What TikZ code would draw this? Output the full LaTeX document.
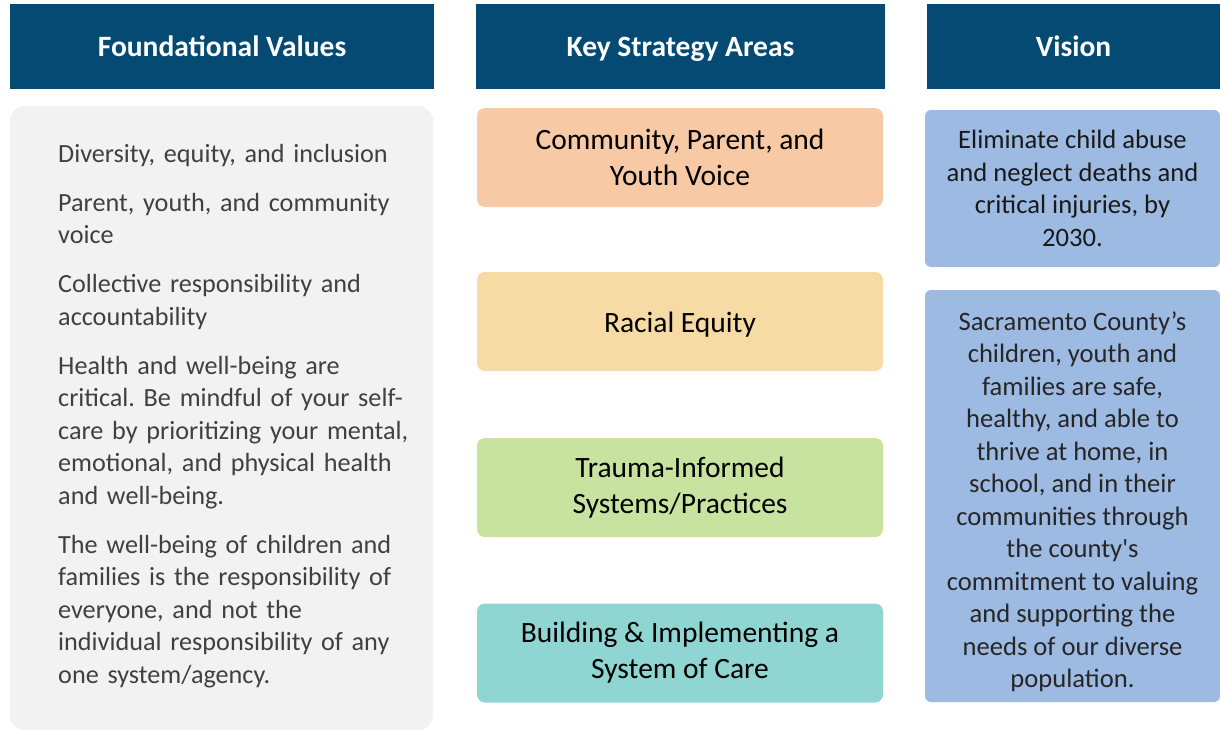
\documentclass[tikz,border=0pt]{standalone}
\usepackage{fontspec}
\setmainfont{Carlito}[Ligatures=TeXOff]
\frenchspacing
\definecolor{hdrblue}{HTML}{044A72}
\definecolor{fvgrey}{HTML}{F2F2F2}
\definecolor{fvtext}{HTML}{404040}
\definecolor{peach}{HTML}{F8C9A5}
\definecolor{sand}{HTML}{F7DBA5}
\definecolor{lime}{HTML}{C8E2A0}
\definecolor{teal}{HTML}{8FD6D2}
\definecolor{sky}{HTML}{9DBAE3}
\definecolor{vtext}{HTML}{262626}
\begin{document}
\begin{tikzpicture}[x=1pt,y=-1pt,
  hdr/.style={fill=hdrblue, text=white, inner sep=0pt, minimum height=85pt,
    text height=22pt, text depth=1.6pt,
    font=\fontsize{29.5}{34}\selectfont\bfseries},
  ksa/.style={rounded corners=8pt, inner sep=0pt, minimum width=406pt, minimum height=99pt,
    align=center, text=black, font=\fontsize{29.5}{36}\selectfont},
  vis/.style={fill=sky, rounded corners=6pt, inner sep=0pt, minimum width=295pt,
    align=center, text=vtext, font=\fontsize{26.6}{32.5}\selectfont},
  vistext/.style={inner sep=0pt, align=center, text=vtext, font=\fontsize{26.6}{32.5}\selectfont},
  fvbody/.style={fill=fvgrey, rounded corners=15pt, inner sep=0pt},
  fvlist/.style={anchor=base west, inner sep=0pt, text width=400pt, align=left,
    text=fvtext, font=\fontsize{26.2}{32.5}\selectfont}]
\useasboundingbox[fill=white] (0,0) rectangle (1220,731);

% headers
\node[hdr, minimum width=424pt] (h1) at (222,46.5) {Foundational Values};
\node[hdr, minimum width=409pt] (h2) at (680.5,46.5) {Key Strategy Areas};
\node[hdr, minimum width=293pt] (h3) at (1073.5,46.5) {Vision};

% foundational values
\node[fvbody, minimum width=423pt, minimum height=624pt] (fv) at (221.5,418) {};
\node[fvlist] (fvl) at (58,162) {Diversity, equity, and inclusion\\[16.5pt]
Parent, youth, and community\\ voice\\[16.5pt]
Collective responsibility and\\ accountability\\[16.5pt]
Health and well-being are\\ critical. Be mindful of your self-\\ care by prioritizing your mental,\\ emotional, and physical health\\ and well-being.\\[16.5pt]
The well-being of children and\\ families is the responsibility of\\ everyone, and not the\\ individual responsibility of any\\ one system/agency.};

% key strategy areas
\node[ksa, fill=peach] (k1) at (680,157.5) {Community, Parent, and\\ Youth Voice};
\node[ksa, fill=sand, text height=21pt, text depth=0pt] (k2) at (680,321.5) {Racial Equity};
\node[ksa, fill=lime] (k3) at (680,487.5) {Trauma-Informed\\ Systems/Practices};
\node[ksa, fill=teal] (k4) at (680,653) {Building \& Implementing a\\ System of Care};

% vision
\node[vis, minimum height=157pt, text=black!90] (v1) at (1072.5,188.5) {Eliminate child abuse\\ and neglect deaths and\\ critical injuries, by\\ 2030.};
\node[vis, minimum height=412pt] (v2) at (1072.5,496) {};
\node[vistext] (v2t) at (1072.5,502) {Sacramento County’s\\ children, youth and\\ families are safe,\\ healthy, and able to\\ thrive at home, in\\ school, and in their\\ communities through\\ the county's\\ commitment to valuing\\ and supporting the\\ needs of our diverse\\ population.};
\end{tikzpicture}
\end{document}
